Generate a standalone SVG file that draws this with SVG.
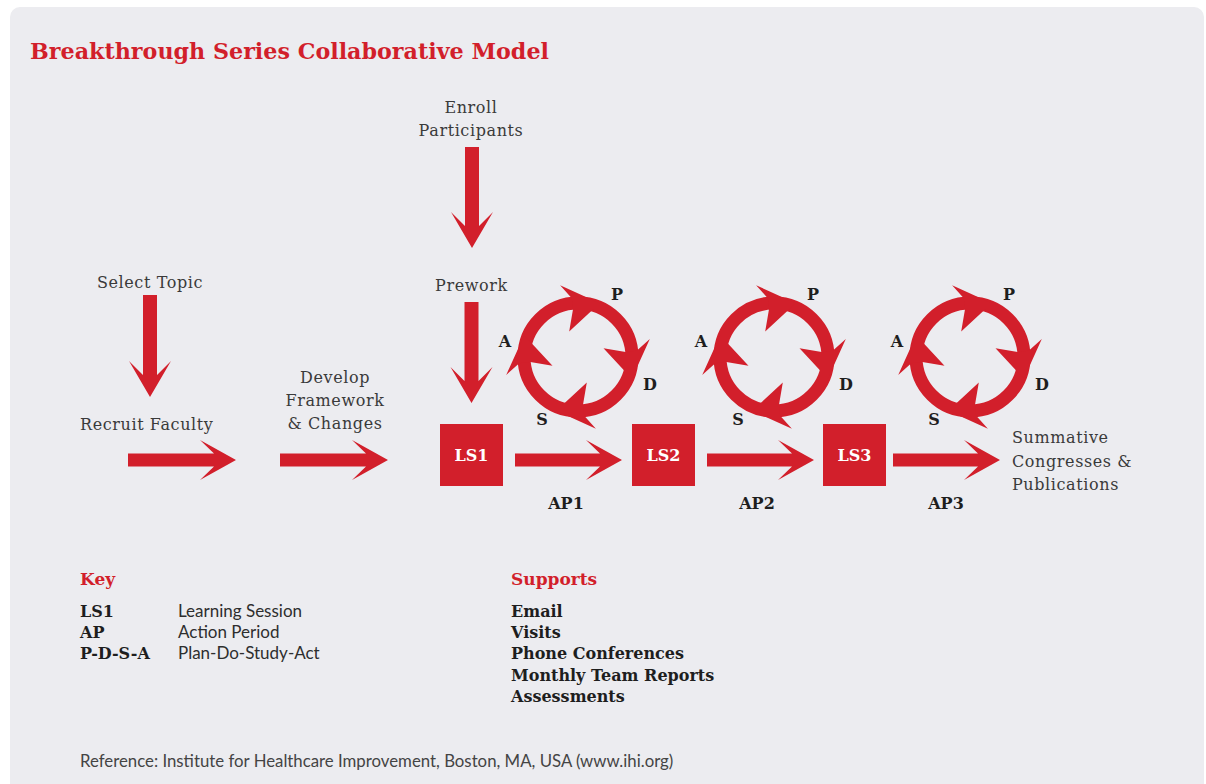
<svg xmlns="http://www.w3.org/2000/svg" xmlns:xlink="http://www.w3.org/1999/xlink" width="1206" height="784" viewBox="0 0 1206 784">
  <style>
    .red { fill: #d21f2b; }
    .slab { font-family: "DejaVu Serif", "Liberation Serif", serif; font-size: 16px; fill: #3a3a3a; letter-spacing: 0.6px; }
    .slabb { font-family: "DejaVu Serif", "Liberation Serif", serif; font-size: 16px; font-weight: bold; fill: #1e1e1e; }
    .ls { font-family: "DejaVu Serif", "Liberation Serif", serif; font-size: 16px; font-weight: bold; fill: #ffffff; }
    .head { font-family: "DejaVu Serif", "Liberation Serif", serif; font-size: 17px; font-weight: bold; fill: #d21f2b; }
    .sans { font-family: Lato, "Liberation Sans", sans-serif; font-size: 17px; fill: #2e2e2e; }
    .note { font-family: Lato, "Liberation Sans", sans-serif; font-size: 16.8px; fill: #444444; }
    .mid { text-anchor: middle; }
  </style>
  <defs>
    <!-- one swept chevron head sitting on the ring, pointing clockwise -->
    <path id="ringHead" d="M53.8,21.7 L71.8,-17.9 L58.7,-6.2 L47.7,-5.0 L25.5,-8.8 Z" fill="#d21f2b"/>
    <!-- P-D-S-A cycle: ring with four heads, centred on the origin -->
    <g id="cycle">
      <circle cx="0" cy="0" r="54" fill="none" stroke="#d21f2b" stroke-width="13"/>
      <use xlink:href="#ringHead"/>
      <use xlink:href="#ringHead" transform="rotate(90)"/>
      <use xlink:href="#ringHead" transform="rotate(180)"/>
      <use xlink:href="#ringHead" transform="rotate(270)"/>
    </g>
  </defs>

  <!-- page and panel -->
  <rect x="0" y="0" width="1206" height="784" fill="#ffffff"/>
  <rect x="10" y="7" width="1194" height="800" rx="10" fill="#ececf0"/>

  <text id="title" x="30" y="59" class="head" style="font-size:22px" textLength="519" lengthAdjust="spacingAndGlyphs">Breakthrough Series Collaborative Model</text>

  <!-- connectors: block arrows -->
  <g id="connectors" class="red">
    <path id="arrow-enroll" d="M465,147 L479,147 L479,226 L493,212 L472,248 L451,212 L465,226 Z"/>
    <path id="arrow-topic" d="M143,295 L157,295 L157,375 L171,361 L150,397 L129,361 L143,375 Z"/>
    <path id="arrow-prework" d="M464.5,302 L478.5,302 L478.5,381 L492.5,367 L471.5,403 L450.5,367 L464.5,381 Z"/>
    <path id="arrow-faculty" d="M128,453.5 L214,453.5 L200,440 L236,460 L200,480 L214,466.5 L128,466.5 Z"/>
    <path id="arrow-framework" d="M280,453.5 L366,453.5 L352,440 L388,460 L352,480 L366,466.5 L280,466.5 Z"/>
    <path id="arrow-ap1" d="M515,453.5 L600,453.5 L586,440 L622,460 L586,480 L600,466.5 L515,466.5 Z"/>
    <path id="arrow-ap2" d="M707,453.5 L792,453.5 L778,440 L814,460 L778,480 L792,466.5 L707,466.5 Z"/>
    <path id="arrow-ap3" d="M893,453.5 L978,453.5 L964,440 L1000,460 L964,480 L978,466.5 L893,466.5 Z"/>
  </g>

  <!-- step labels -->
  <g id="enroll">
    <text x="471" y="113" class="slab mid">Enroll</text>
    <text x="471" y="136" class="slab mid">Participants</text>
  </g>
  <g id="select-topic">
    <text x="150" y="288" class="slab mid">Select Topic</text>
  </g>
  <g id="recruit-faculty">
    <text x="80" y="430" class="slab">Recruit Faculty</text>
  </g>
  <g id="develop">
    <text x="335" y="383" class="slab mid">Develop</text>
    <text x="335" y="406" class="slab mid">Framework</text>
    <text x="335" y="429" class="slab mid">&amp; Changes</text>
  </g>
  <g id="prework">
    <text x="471.5" y="291" class="slab mid">Prework</text>
  </g>
  <g id="summative">
    <text x="1012" y="443" class="slab">Summative</text>
    <text x="1012" y="467" class="slab">Congresses &amp;</text>
    <text x="1012" y="490" class="slab">Publications</text>
  </g>

  <!-- learning sessions -->
  <g id="ls1">
    <rect x="440" y="424" width="63" height="62" class="red"/>
    <text x="471.5" y="461" class="ls mid">LS1</text>
  </g>
  <g id="ls2">
    <rect x="632" y="424" width="63" height="62" class="red"/>
    <text x="663.5" y="461" class="ls mid">LS2</text>
  </g>
  <g id="ls3">
    <rect x="823" y="424" width="63" height="62" class="red"/>
    <text x="854.5" y="461" class="ls mid">LS3</text>
  </g>

  <!-- action periods -->
  <g id="ap1">
    <use xlink:href="#cycle" transform="translate(578,357)"/>
    <text x="617" y="300" class="slabb mid">P</text>
    <text x="650" y="390" class="slabb mid">D</text>
    <text x="542" y="425" class="slabb mid">S</text>
    <text x="505" y="347" class="slabb mid">A</text>
    <text x="566" y="509" class="slabb mid">AP1</text>
  </g>
  <g id="ap2">
    <use xlink:href="#cycle" transform="translate(774,357)"/>
    <text x="813" y="300" class="slabb mid">P</text>
    <text x="846" y="390" class="slabb mid">D</text>
    <text x="738" y="425" class="slabb mid">S</text>
    <text x="701" y="347" class="slabb mid">A</text>
    <text x="757" y="509" class="slabb mid">AP2</text>
  </g>
  <g id="ap3">
    <use xlink:href="#cycle" transform="translate(970,357)"/>
    <text x="1009" y="300" class="slabb mid">P</text>
    <text x="1042" y="390" class="slabb mid">D</text>
    <text x="934" y="425" class="slabb mid">S</text>
    <text x="897" y="347" class="slabb mid">A</text>
    <text x="946" y="509" class="slabb mid">AP3</text>
  </g>

  <!-- key -->
  <g id="key">
    <text x="80" y="585" class="head">Key</text>
    <text x="80" y="617" class="slabb">LS1</text>
    <text x="80" y="638" class="slabb">AP</text>
    <text x="80" y="659" class="slabb">P-D-S-A</text>
    <text x="178" y="617" class="sans">Learning Session</text>
    <text x="178" y="638" class="sans">Action Period</text>
    <text x="178" y="659" class="sans">Plan-Do-Study-Act</text>
  </g>

  <!-- supports -->
  <g id="supports">
    <text x="511" y="585" class="head">Supports</text>
    <text x="511" y="617" class="slabb">Email</text>
    <text x="511" y="638" class="slabb">Visits</text>
    <text x="511" y="659" class="slabb">Phone Conferences</text>
    <text x="511" y="681" class="slabb">Monthly Team Reports</text>
    <text x="511" y="702" class="slabb">Assessments</text>
  </g>

  <g id="reference">
    <text x="80" y="767" class="note">Reference: Institute for Healthcare Improvement, Boston, MA, USA (www.ihi.org)</text>
  </g>
</svg>
